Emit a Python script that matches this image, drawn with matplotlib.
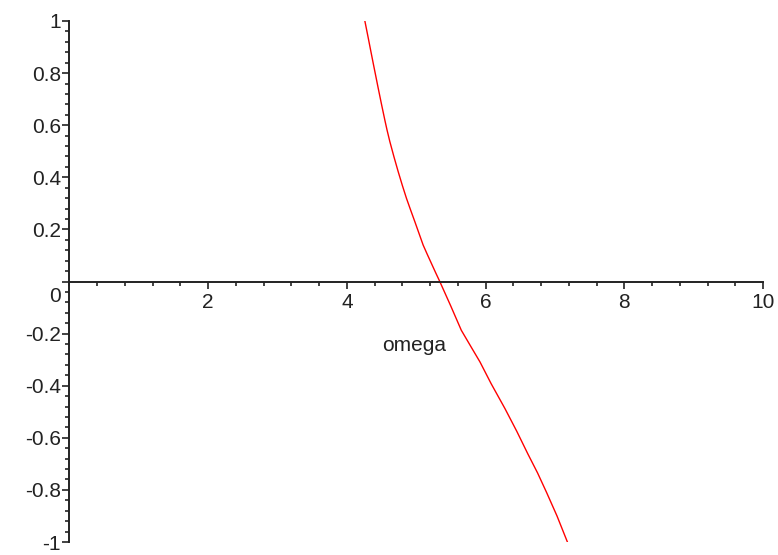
import numpy as np
import matplotlib
matplotlib.use('Agg')
from matplotlib import pyplot as plt
from matplotlib.ticker import MultipleLocator
from matplotlib.transforms import ScaledTranslation

# curve
omega = [4.26, 4.31, 4.34, 4.38, 4.42, 4.45, 4.50, 4.55, 4.58, 4.62, 4.68, 4.74, 4.80,
         4.86, 4.92, 4.98, 5.04, 5.10, 5.16, 5.22, 5.28, 5.34,
         5.50, 5.65, 5.80, 5.92, 6.08, 6.28, 6.45, 6.61, 6.75, 6.88, 7.03, 7.18]
value = [1.0, 0.933, 0.892, 0.838, 0.785, 0.745, 0.68, 0.617, 0.581, 0.537, 0.478, 0.422, 0.369,
         0.319, 0.274, 0.23, 0.185, 0.14, 0.104, 0.069, 0.034, 0.0,
         -0.095, -0.187, -0.255, -0.309, -0.392, -0.488, -0.575, -0.662, -0.735, -0.81, -0.90, -1.0]

xticks = [2, 4, 6, 8, 10]
yticks = [-1, -0.8, -0.6, -0.4, -0.2, 0, 0.2, 0.4, 0.6, 0.8, 1]
ytick_labels = ['-1', '-0.8', '-0.6', '-0.4', '-0.2', '0', '0.2', '0.4', '0.6', '0.8', '1']

plt.rcParams['font.family'] = ['Liberation Sans', 'DejaVu Sans']
plt.rcParams['font.size'] = 15
plt.rcParams['text.color'] = '#222222'

fig = plt.figure(figsize=(7.78, 5.55), dpi=100)
ax = fig.add_axes([69.4 / 778, 1 - 542 / 555, (763 - 69.4) / 778, (542 - 21) / 555])

ax.plot(omega, value, color='red', lw=1.0)

ax.set_xlim(0, 10)
ax.set_ylim(-1, 1)

ax.spines['left'].set_position(('data', 0))
ax.spines['bottom'].set_position(('data', 0))
ax.spines['top'].set_visible(False)
ax.spines['right'].set_visible(False)
for s in ('left', 'bottom'):
    ax.spines[s].set_linewidth(1.4)
    ax.spines[s].set_color('#222222')

ax.set_xticks(xticks)
ax.set_xticklabels([str(t) for t in xticks])
ax.xaxis.set_minor_locator(MultipleLocator(0.4))
ax.set_yticks(yticks)
ax.set_yticklabels(ytick_labels)
ax.yaxis.set_minor_locator(MultipleLocator(0.04))

ax.tick_params(axis='both', which='major', direction='out', length=5, width=1.2,
               color='#222222', labelcolor='#222222')
ax.tick_params(axis='both', which='minor', direction='out', length=3, width=1.2, color='#222222')
ax.tick_params(axis='x', pad=3)
ax.tick_params(axis='y', pad=1)

# Maple pushes the "0" label down off the axis
for lab in ax.get_yticklabels():
    if lab.get_text() == '0':
        lab.set_transform(lab.get_transform() + ScaledTranslation(0, -9 / 72, fig.dpi_scale_trans))

ax.text(4.97, -0.246, 'omega', ha='center', va='center')

fig.savefig('out.png', dpi=100)
